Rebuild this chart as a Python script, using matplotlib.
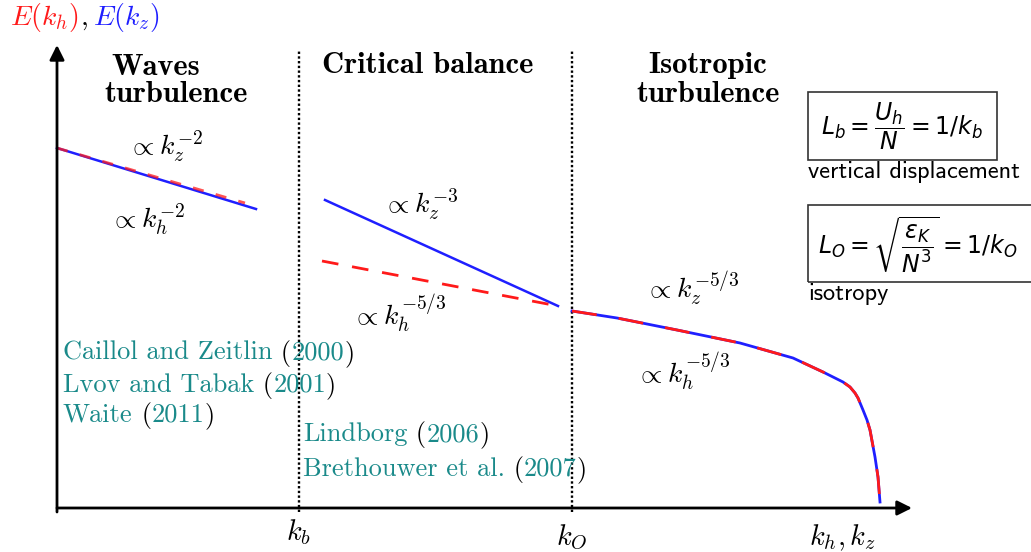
import matplotlib
matplotlib.use('Agg')
import matplotlib.pyplot as plt
from matplotlib import transforms
from matplotlib.patches import Rectangle

plt.rcParams['mathtext.fontset'] = 'cm'
plt.rcParams['font.family'] = 'cmr10'
plt.rcParams['axes.unicode_minus'] = False

RED = '#ff1a1a'
BLUE = '#1f1fff'
TEAL = '#1a8a8a'

# regime boundaries and axis extent (schematic units, origin at the axes corner)
k_b = 242
k_O = 515
k_max = 855
E_max = 463

# wave turbulence: E ~ k^-2 for both spectra
wave_kz = [0, 199]
wave_Ez = [360, 299]
wave_kh = [0, 188]
wave_Eh = [360, 305]

# critical balance: E(kz) ~ kz^-3, E(kh) ~ kh^-5/3
cb_kz = [268, 501]
cb_Ez = [308, 202]
cb_kh = [265, 501]
cb_Eh = [247, 202]

# isotropic turbulence down to the dissipative cutoff
iso_k = [515, 560, 620, 683, 736, 766, 776, 786, 793, 798, 801, 806, 810, 813, 818, 821, 823]
iso_E = [197, 190, 178, 165, 150, 136, 131, 126, 121, 115, 110, 98, 88, 78, 51, 31, 6]

fig = plt.figure(figsize=(10.31, 5.52), dpi=100)
ax = fig.add_axes([0, 0, 1, 1])
ax.set_xlim(-57, 974)
ax.set_ylim(-44, 508)
ax.axis('off')

# axes with arrow heads
arrow = dict(arrowstyle='-|>', lw=2, color='k', mutation_scale=22, shrinkA=0, shrinkB=0)
ax.annotate('', xy=(0, E_max), xytext=(0, -4), arrowprops=arrow)
ax.annotate('', xy=(k_max, 0), xytext=(0, 0), arrowprops=arrow)

# regime boundaries
for k in (k_b, k_O):
    ax.plot([k, k], [-4, 458], color='k', lw=1.7, ls=(0, (1, 1)))

# spectra
ax.plot(wave_kz, wave_Ez, color=BLUE, lw=1.8)
ax.plot(wave_kh, wave_Eh, color=RED, lw=2, dashes=(4, 4.5), alpha=0.75)
ax.plot(cb_kz, cb_Ez, color=BLUE, lw=1.8)
ax.plot(cb_kh, cb_Eh, color=RED, lw=2, dashes=(6, 5))
ax.plot(iso_k, iso_E, color=BLUE, lw=2, solid_joinstyle='round')
ax.plot(iso_k, iso_E, color=RED, lw=2, dashes=(9, 8), dash_capstyle='butt',
        dash_joinstyle='round')

# regime titles
tkw = dict(family='cmb10', fontsize=22, ha='center', va='baseline')
ax.text(99, 433, 'Waves', **tkw)
ax.text(119, 406, 'turbulence', **tkw)
ax.text(371, 435, 'Critical balance', **tkw)
ax.text(651, 435, 'Isotropic', **tkw)
ax.text(651, 406, 'turbulence', **tkw)

# slope annotations
skw = dict(fontsize=20, va='baseline')
ax.text(71, 353, r'$\propto k_z^{-2}$', **skw)
ax.text(53, 280, r'$\propto k_h^{-2}$', **skw)
ax.text(326, 295, r'$\propto k_z^{-3}$', **skw)
ax.text(295, 183, r'$\propto k_h^{-5/3}$', **skw)
ax.text(588, 211, r'$\propto k_z^{-5/3}$', **skw)
ax.text(579, 125, r'$\propto k_h^{-5/3}$', **skw)

# axis labels
ax.text(k_b, -32, r'$k_b$', fontsize=20.5, ha='center', va='baseline')
ax.text(k_O, -37, r'$k_O$', fontsize=20.5, ha='center', va='baseline')
ax.text(786, -37, r'$k_h, k_z$', fontsize=20.5, ha='center', va='baseline')

renderer = fig.canvas.get_renderer()


def pieces(x, y, parts, **kw):
    # write consecutive text pieces with their own colours on one baseline
    tr = ax.transData
    for s, c, gap in parts:
        t = ax.text(x, y, s, color=c, transform=tr, va='baseline', **kw)
        w = t.get_window_extent(renderer).width + gap
        tr = transforms.offset_copy(t.get_transform(), fig=fig, x=w, units='dots')


pieces(-47, 483, [(r'$E(k_h)$', RED, 1), (r'$,$', 'k', 5), (r'$E(k_z)$', BLUE, 0)],
       fontsize=20)

refs = [
    (6, 148, 'Caillol and Zeitlin', '2000'),
    (6, 116, 'Lvov and Tabak', '2001'),
    (6, 86, 'Waite', '2011'),
    (246, 67, 'Lindborg', '2006'),
    (246, 32, 'Brethouwer et al.', '2007'),
]
for x, y, name, year in refs:
    pieces(x, y, [(name, TEAL, 0), (' (', 'k', 0), (year, TEAL, 0), (')', 'k', 0)],
           fontsize=19)

# length scale boxes
ax.add_patch(Rectangle((751, 348), 189, 68, fill=False, lw=1.2, ec='#333333'))
ax.text(845, 382, r'$L_b = \dfrac{U_h}{N} = 1/k_b$', fontsize=17, ha='center', va='center',
        math_fontfamily='dejavusans')
ax.text(751, 330, 'vertical displacement', family='cmss10', fontsize=17.5, va='baseline')

ax.add_patch(Rectangle((751, 226), 240, 77, fill=False, lw=1.2, ec='#333333'))
ax.text(761, 263, r'$L_O = \sqrt{\dfrac{\varepsilon_K}{N^3}} = 1/k_O$', fontsize=17, ha='left',
        va='center', math_fontfamily='dejavusans')
ax.text(751, 208, 'isotropy', family='cmss10', fontsize=17.5, va='baseline')

plt.savefig('out.png', dpi=100)
